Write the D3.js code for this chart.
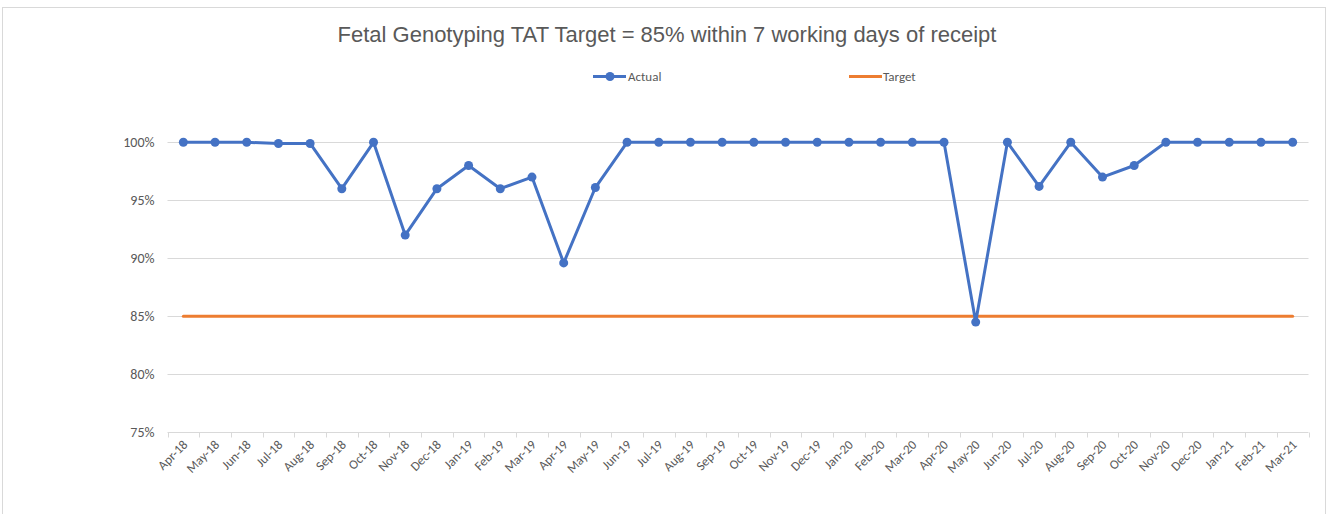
<!DOCTYPE html>
<html>
<head>
<meta charset="utf-8">
<script src="https://cdn.jsdelivr.net/npm/d3@7"></script>
<style>
  body { margin: 0; background: #fff; }
  text { font-family: Carlito, Calibri, "Liberation Sans", sans-serif; fill: #595959; }
</style>
</head>
<body>
<svg width="1331" height="514"></svg>
<script>
const months = ["Apr-18","May-18","Jun-18","Jul-18","Aug-18","Sep-18","Oct-18","Nov-18","Dec-18","Jan-19","Feb-19","Mar-19",
    "Apr-19","May-19","Jun-19","Jul-19","Aug-19","Sep-19","Oct-19","Nov-19","Dec-19","Jan-20","Feb-20","Mar-20",
    "Apr-20","May-20","Jun-20","Jul-20","Aug-20","Sep-20","Oct-20","Nov-20","Dec-20","Jan-21","Feb-21","Mar-21"];
const actual = [100,100,100,99.9,99.9,96,100,92,96,98,96,97,
    89.6,96.1,100,100,100,100,100,100,100,100,100,100,
    100,84.5,100,96.2,100,97,98,100,100,100,100,100];
const target = months.map(() => 85);
const yTicks = [75,80,85,90,95,100];

const svg = d3.select("svg"),
    width = +svg.attr("width"),
    height = +svg.attr("height");

const plot = {left: 167.5, right: 1308.5, top: 142.3, bottom: 432.3};

// chart border
svg.append("rect")
    .attr("x", 2.5).attr("y", 7.5)
    .attr("width", 1323).attr("height", 520)
    .attr("fill", "#fff").attr("stroke", "#d9d9d9");

const x = d3.scaleBand().domain(months).range([plot.left, plot.right]);
const y = d3.scaleLinear().domain([75, 100]).range([plot.bottom, plot.top]);
const cx = d => x(d) + x.bandwidth() / 2;

// gridlines
svg.append("g").selectAll("line")
    .data(yTicks.slice(1))
    .join("line")
    .attr("x1", plot.left).attr("x2", plot.right)
    .attr("y1", d => Math.round(y(d)) + 0.5).attr("y2", d => Math.round(y(d)) + 0.5)
    .attr("stroke", "#d9d9d9");

// y labels
svg.append("g").selectAll("text")
    .data(yTicks)
    .join("text")
    .attr("x", 154.5).attr("y", d => y(d) + 4.7)
    .attr("text-anchor", "end")
    .style("font-size", "14px")
    .text(d => d + "%");

// x axis
const xAxis = svg.append("g")
    .attr("transform", `translate(0,${Math.round(plot.bottom) + 0.5})`);
xAxis.append("line")
    .attr("x1", plot.left).attr("x2", plot.right)
    .attr("stroke", "#d9d9d9");
xAxis.selectAll("line.tick")
    .data(months.concat(["_end"]))
    .join("line")
    .attr("class", "tick")
    .attr("x1", (d, i) => Math.round(plot.left + i * x.step()) + 0.5)
    .attr("x2", (d, i) => Math.round(plot.left + i * x.step()) + 0.5)
    .attr("y1", 0).attr("y2", 5)
    .attr("stroke", "#d9d9d9");
xAxis.selectAll("text")
    .data(months)
    .join("text")
    .attr("transform", d => `translate(${cx(d) + 5},${13}) rotate(-45)`)
    .attr("text-anchor", "end")
    .style("font-size", "13px")
    .text(d => d);

// target line
svg.append("path")
    .datum(target)
    .attr("fill", "none")
    .attr("stroke", "#ED7D31")
    .attr("stroke-width", 3)
    .attr("stroke-linecap", "round")
    .attr("d", d3.line().x((d, i) => cx(months[i])).y(d => y(d)));

// actual line
svg.append("path")
    .datum(actual)
    .attr("fill", "none")
    .attr("stroke", "#4472C4")
    .attr("stroke-width", 3)
    .attr("stroke-linejoin", "round")
    .attr("d", d3.line().x((d, i) => cx(months[i])).y(d => y(d)));

svg.append("g").selectAll("circle")
    .data(actual)
    .join("circle")
    .attr("cx", (d, i) => cx(months[i]))
    .attr("cy", d => y(d))
    .attr("r", 4.5)
    .attr("fill", "#4472C4");

// title
svg.append("text")
    .attr("x", 667).attr("y", 41.5)
    .attr("text-anchor", "middle")
    .style("font-family", "'Liberation Sans', Arial, sans-serif")
    .style("font-size", "22px")
    .text("Fetal Genotyping TAT Target = 85% within 7 working days of receipt");

// legend
const legend = svg.append("g");
legend.append("line")
    .attr("x1", 593).attr("x2", 626).attr("y1", 76.5).attr("y2", 76.5)
    .attr("stroke", "#4472C4").attr("stroke-width", 3);
legend.append("circle")
    .attr("cx", 610).attr("cy", 76.5).attr("r", 4.5).attr("fill", "#4472C4");
legend.append("text")
    .attr("x", 628).attr("y", 81)
    .style("font-size", "13px")
    .text("Actual");
legend.append("line")
    .attr("x1", 849).attr("x2", 882).attr("y1", 76.5).attr("y2", 76.5)
    .attr("stroke", "#ED7D31").attr("stroke-width", 3);
legend.append("text")
    .attr("x", 883).attr("y", 81)
    .style("font-size", "13px")
    .text("Target");
</script>
</body>
</html>
